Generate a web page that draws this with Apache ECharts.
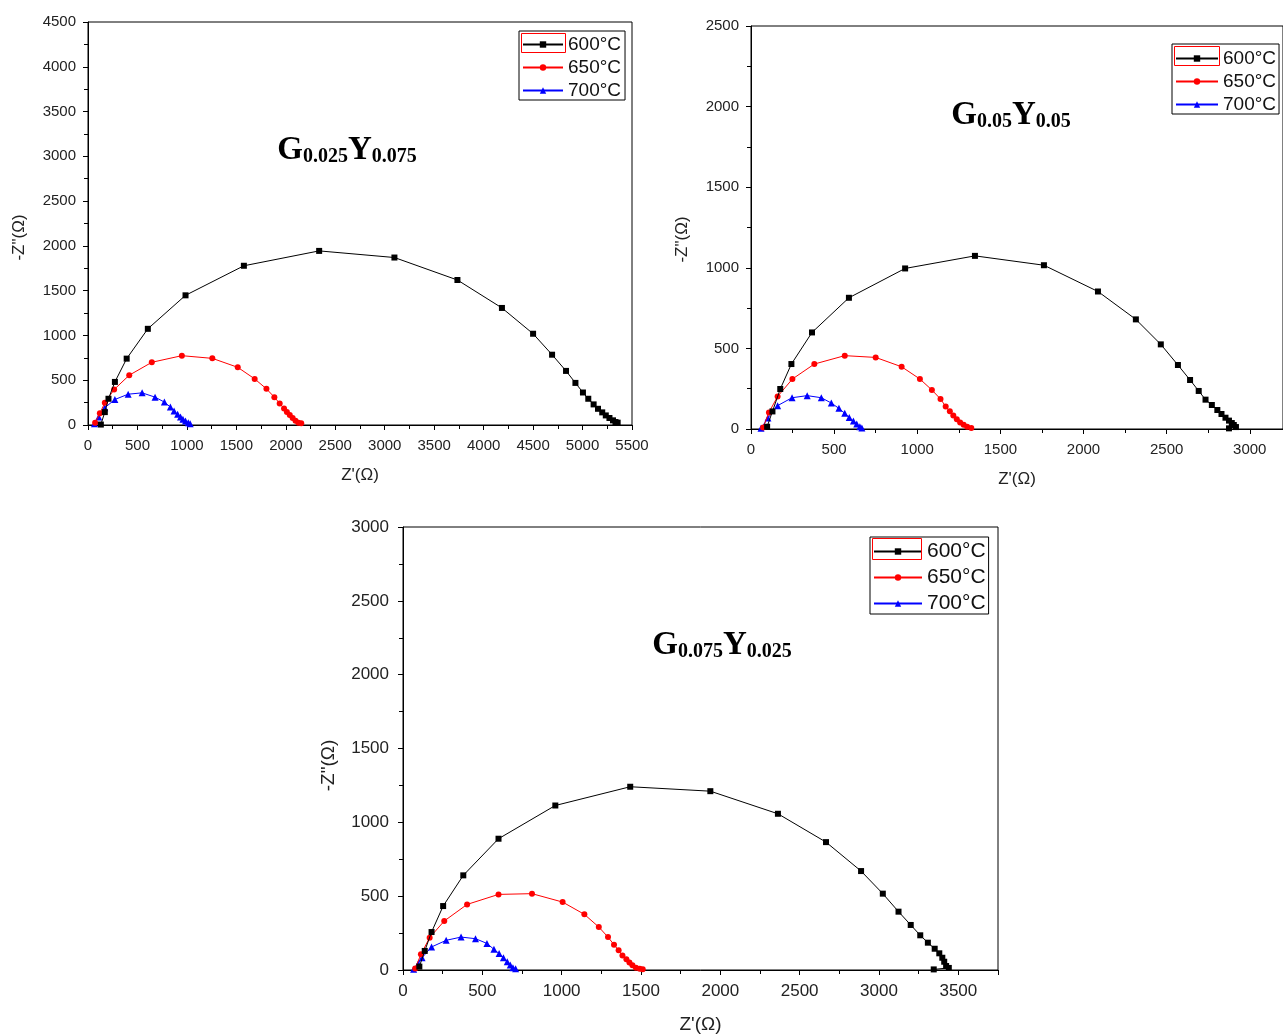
<!DOCTYPE html>
<html>
<head>
<meta charset="utf-8">
<script src="https://cdn.jsdelivr.net/npm/echarts@6/dist/echarts.min.js"></script>
<style>
  html, body { margin: 0; padding: 0; background: #fff; }
  #main { width: 1283px; height: 1036px; }
</style>
</head>
<body>
<div id="main"></div>
<script>
// legend names
const temps = ['600°C', '650°C', '700°C'];

// panel 1 : G0.025Y0.075  [Z', -Z'']
const p1_600 = [[130,5],[170,144],[207,293],[272,481],[391,741],[605,1074],[986,1448],[1576,1778],[2337,1944],[3098,1870],[3735,1619],[4185,1307],[4500,1019],[4692,785],[4833,604],[4928,470],[5004,363],[5058,293],[5112,230],[5156,181],[5199,141],[5235,107],[5272,78],[5308,52],[5333,33],[5355,26]];
const p1_650 = [[72,26],[120,130],[170,248],[264,396],[417,556],[645,700],[949,774],[1257,744],[1514,644],[1685,515],[1804,404],[1884,311],[1938,241],[1982,185],[2011,144],[2040,111],[2069,78],[2098,48],[2127,26],[2156,19]];
const p1_700 = [[65,15],[109,89],[170,193],[272,285],[406,344],[547,359],[678,311],[772,256],[833,200],[870,156],[906,119],[935,89],[960,63],[986,44],[1014,26],[1033,15]];

// panel 2 : G0.05Y0.05
const p2_600 = [[97,14],[129,109],[176,248],[243,403],[367,599],[589,814],[927,996],[1347,1074],[1762,1016],[2087,853],[2315,680],[2465,525],[2568,397],[2641,304],[2693,236],[2734,182],[2772,149],[2805,118],[2830,93],[2854,70],[2875,52],[2892,37],[2904,25],[2917,12],[2875,4]];
const p2_650 = [[73,10],[108,103],[160,202],[249,310],[381,403],[564,455],[750,444],[906,386],[1016,310],[1088,242],[1140,186],[1171,140],[1196,110],[1217,83],[1238,60],[1258,41],[1279,27],[1300,14],[1325,6]];
const p2_700 = [[60,4],[102,68],[160,145],[247,194],[338,207],[423,194],[483,161],[529,128],[564,97],[591,72],[616,50],[636,31],[655,14],[667,6]];

// panel 3 : G0.075Y0.025
const p3_600 = [[103,23],[137,129],[180,257],[253,433],[380,641],[602,889],[960,1114],[1432,1241],[1937,1211],[2363,1058],[2666,866],[2887,670],[3024,517],[3123,395],[3200,305],[3260,235],[3308,185],[3351,144],[3380,113],[3399,83],[3411,56],[3423,27],[3440,14],[3345,4]];
const p3_650 = [[77,11],[113,106],[168,219],[260,332],[404,444],[602,512],[813,517],[1006,460],[1143,377],[1234,291],[1292,223],[1330,171],[1359,133],[1383,99],[1408,72],[1427,50],[1446,32],[1468,16],[1492,9],[1511,5]];
const p3_700 = [[67,5],[96,43],[120,83],[180,156],[272,201],[366,223],[457,212],[529,180],[573,140],[606,111],[633,83],[657,56],[676,34],[693,16],[710,9]];

// axis ranges
const xMax = [5500, 3200, 3750];
const yMax = [4500, 2500, 3000];

const sans = 'Liberation Sans, Arial, sans-serif';
const serif = 'Liberation Serif, Times New Roman, serif';

function axisBase(fs, margin) {
  return {
    type: 'value',
    min: 0,
    interval: 500,
    axisLine: { show: true, lineStyle: { color: '#000', width: 1 } },
    axisTick: { show: true, inside: false, length: 5, lineStyle: { color: '#000' } },
    minorTick: { show: true, splitNumber: 2, length: 4, lineStyle: { color: '#000' } },
    splitLine: { show: false },
    minorSplitLine: { show: false },
    axisLabel: { color: '#222', fontSize: fs, fontFamily: sans, margin: margin, showMaxLabel: true,
      formatter: v => String(v) },
    nameLocation: 'middle'
  };
}

const grids = [
  { left: 88, top: 22, width: 544, height: 403 },
  { left: 751, top: 26, width: 532, height: 403 },
  { left: 403, top: 527, width: 595, height: 443 }
];
grids.forEach(g => { g.show = true; g.borderColor = '#000'; g.borderWidth = 1; g.backgroundColor = 'transparent'; });

const fsz = [15, 15, 17];
const nameFs = [17, 17, 19];
const yShift = [28, 24, 34];   // pushes rotated y name downward
const xAxes = [], yAxes = [];
for (let i = 0; i < 3; i++) {
  const xa = axisBase(fsz[i], 13);
  xa.gridIndex = i; xa.max = xMax[i]; xa.name = "Z'(Ω)"; xa.nameGap = i === 2 ? 45 : 42;
  xa.nameTextStyle = { color: '#222', fontSize: nameFs[i], fontFamily: sans };
  if (i > 0) xa.axisLabel.showMaxLabel = false;
  xAxes.push(xa);
  const ya = axisBase(fsz[i], i === 2 ? 14 : 12);
  ya.gridIndex = i; ya.max = yMax[i]; ya.name = '-Z"(Ω)'; ya.nameGap = i === 2 ? 65 : 60;
  ya.nameTextStyle = { color: '#222', fontSize: nameFs[i], fontFamily: sans, padding: [0, yShift[i], 0, 0] };
  yAxes.push(ya);
}

const colors = ['#000000', '#ff0000', '#0000ff'];
const symbols = ['rect', 'circle', 'triangle'];
const symSizes = [6, 6, 7];
const panels = [[p1_600, p1_650, p1_700], [p2_600, p2_650, p2_700], [p3_600, p3_650, p3_700]];

const series = [];
panels.forEach((sets, gi) => {
  sets.forEach((d, k) => {
    series.push({
      name: temps[k],
      type: 'line',
      xAxisIndex: gi,
      yAxisIndex: gi,
      data: d,
      symbol: symbols[k],
      symbolSize: symSizes[k],
      showAllSymbol: true,
      color: colors[k],
      lineStyle: { color: colors[k], width: 1 },
      itemStyle: { color: colors[k] },
      z: 3 - k
    });
  });
});

function legendAt(left, top, fs, iw, gap, pad) {
  return {
    data: temps,
    orient: 'vertical',
    left: left, top: top,
    itemWidth: iw, itemHeight: 8, itemGap: gap,
    padding: pad,
    borderColor: '#000', borderWidth: 1,
    selectedMode: false,
    textStyle: { color: '#111', fontSize: fs, fontFamily: sans }
  };
}

const legends = [
  legendAt(519, 31, 19, 40, 4, [4, 4, 0, 3]),
  legendAt(1172, 44, 19, 42, 4, [5, 3, 0, 3]),
  legendAt(870, 537, 21, 48, 5, [4, 3, 0, 3])
];

function titleText(x, y, a, b) {
  return {
    type: 'text', x: x, y: y, z: 10,
    style: {
      text: '{g|G}{s|' + a + '}{g|Y}{s|' + b + '}',
      align: 'center', verticalAlign: 'middle',
      rich: {
        g: { fontFamily: serif, fontWeight: 'bold', fontSize: 33, fill: '#000' },
        s: { fontFamily: serif, fontWeight: 'bold', fontSize: 20, fill: '#000', padding: [14, 0, 0, 0] }
      }
    }
  };
}

function redBox(x, y, w, h) {
  return { type: 'rect', z: 20, shape: { x: x, y: y, width: w, height: h },
    style: { fill: 'none', stroke: '#ff0000', lineWidth: 1 } };
}

const chart = echarts.init(document.getElementById('main'));
chart.setOption({
  backgroundColor: '#fff',
  animation: false,
  grid: grids,
  xAxis: xAxes,
  yAxis: yAxes,
  legend: legends,
  series: series,
  graphic: [
    titleText(347, 150, '0.025', '0.075'),
    titleText(1011, 115, '0.05', '0.05'),
    titleText(722, 645, '0.075', '0.025'),
    redBox(521.5, 33.5, 44, 19),
    redBox(1174.5, 46.5, 45, 19),
    redBox(872.5, 538.5, 49, 21)
  ]
});
</script>
</body>
</html>
